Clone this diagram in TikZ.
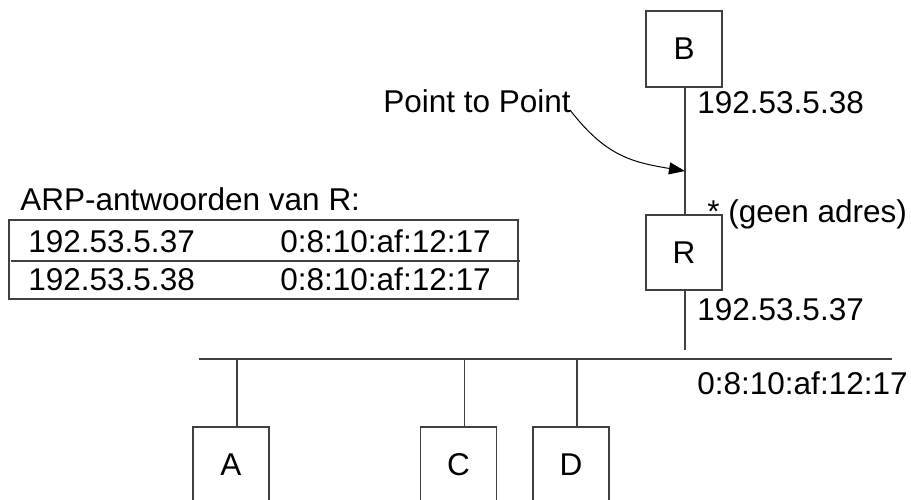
\documentclass[tikz,border=0pt]{standalone}
\usepackage{fontspec}
\setmainfont{Liberation Sans}
\usetikzlibrary{arrows.meta}
\begin{document}
\begin{tikzpicture}[x=0.5pt,y=-0.5pt,
  every node/.style={font=\fontsize{15.75}{18}\selectfont, inner sep=0pt},
  ln/.style={draw=black!75, line width=0.55pt},
  hostbox/.style={ln, rectangle, minimum width=38pt, minimum height=38pt},
  lbl/.style={anchor=base west}]
\useasboundingbox (0,0) rectangle (911,499);
\clip (0,0) rectangle (911,499);
% hosts
\node[hostbox] (B) at (684,49) {B};
\node[hostbox, minimum height=37.5pt] (R) at (684,252.5) {R};
\node[hostbox] (A) at (231,465) {A};
\node[hostbox] (C) at (458.5,465) {C};
\node[hostbox] (D) at (571,465) {D};
% bus
\coordinate (busL) at (199,359);
\coordinate (busR) at (892,359);
\draw[ln] (busL) -- (busR);
\coordinate (Rend) at (685,350);
% point-to-point link
\draw[ln] ([xshift=0.5pt]B.south) -- ([xshift=0.5pt]R.north);
\draw[ln] ([xshift=0.5pt]R.south) -- (Rend);
% drops
\draw[ln] ([xshift=3pt]A.north) -- ([xshift=3pt]A.north |- busL);
\draw[ln] ([xshift=3pt]C.north) -- ([xshift=3pt]C.north |- busL);
\draw[ln] ([xshift=3pt]D.north) -- ([xshift=3pt]D.north |- busL);
% labels
\node[lbl] (ptp) at (383,112) {Point to Point};
\coordinate (ptpend) at (570,110);
\coordinate (tip) at (685,171);
\draw[line width=0.5pt, -{Triangle[length=8pt,width=6pt]}] (ptpend) .. controls (605,155) and (630,162) .. (tip);
\node[lbl] (ipB) at (697,113) {192.53.5.38};
\node[lbl] (geen) at (707,222) {* (geen adres)};
\node[lbl] (ipR) at (697,320) {192.53.5.37};
\node[lbl] (mac) at (697,394) {0:8:10:af:12:17};
% ARP table
\node[lbl] (arp) at (20,210) {ARP-antwoorden van R:};
\draw[ln] (9,220) rectangle (518,299);
\draw[ln] (11,261) -- (520,261);
\node[lbl] (r1a) at (28,252) {192.53.5.37};
\node[lbl] (r1b) at (280,252) {0:8:10:af:12:17};
\node[lbl] (r2a) at (28,290) {192.53.5.38};
\node[lbl] (r2b) at (280,290) {0:8:10:af:12:17};
\end{tikzpicture}
\end{document}
